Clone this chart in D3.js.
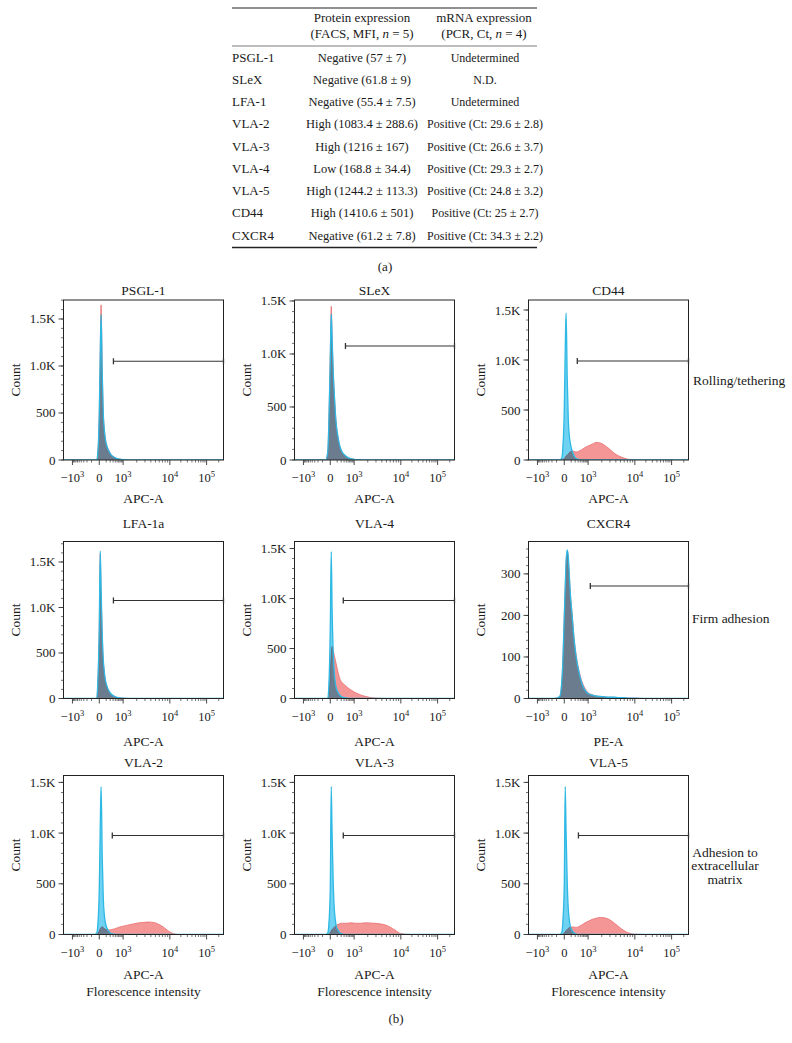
<!DOCTYPE html>
<html><head><meta charset="utf-8">
<script src="https://cdn.jsdelivr.net/npm/d3@7"></script>
<style>
body{margin:0;background:#fff}
text{font-family:"Liberation Serif","Times New Roman",serif;fill:#1a1a1a}
</style>
</head><body>
<svg id="c" width="792" height="1043"></svg>
<script>
// ---------------- DATA ----------------
const tableHeader1 = ["Protein expression", "mRNA expression"];
const rowLabels = ["PSGL-1","SLeX","LFA-1","VLA-2","VLA-3","VLA-4","VLA-5","CD44","CXCR4"];
const proteinExpr = ["Negative (57 ± 7)","Negative (61.8 ± 9)","Negative (55.4 ± 7.5)","High (1083.4 ± 288.6)","High (1216 ± 167)","Low (168.8 ± 34.4)","High (1244.2 ± 113.3)","High (1410.6 ± 501)","Negative (61.2 ± 7.8)"];
const mrnaExpr = ["Undetermined","N.D.","Undetermined","Positive (Ct: 29.6 ± 2.8)","Positive (Ct: 26.6 ± 3.7)","Positive (Ct: 29.3 ± 2.7)","Positive (Ct: 24.8 ± 3.2)","Positive (Ct: 25 ± 2.7)","Positive (Ct: 34.3 ± 2.2)"];

const panelNames = ["PSGL-1","SLeX","CD44","LFA-1a","VLA-4","CXCR4","VLA-2","VLA-3","VLA-5"];
const channelNames = ["APC-A","APC-A","APC-A","APC-A","APC-A","PE-A","APC-A","APC-A","APC-A"];
const groupLabels = [["Rolling/tethering"],["Firm adhesion"],["Adhesion to","extracellular","matrix"]];

const xTickValues = [-1000, 0, 1000, 10000, 100000];
const xTickBase = ["\u221210", "0", "10", "10", "10"];
const xTickExp = ["3", "", "3", "4", "5"];
const xMinorValues = [-900,-800,-700,-600,-500,-400,-300,-200,-100,100,200,300,400,500,600,700,800,900,2000,3000,4000,5000,6000,7000,8000,9000,20000,30000,40000,50000,60000,70000,80000,90000,200000];

const yMaxCounts = [1702, 1509, 1600, 1725, 1570, 378, 1568, 1568, 1568];
const yTicksK = [0, 500, 1000, 1500];
const yTicksSmall = [0, 100, 200, 300];

// fluorescence value of each histogram point
const xGrid = [-2000,-1000,-150,-50,-25,-15,0,10,20,35,50,65,80,120,170,230,350,500,700,1000,1250,1500,1850,2250,2850,3650,4650,5900,7500,10000,17500,32700,100000,262144];

const psglBlue = [0,0,0,0,0,60,500,1100,1550,900,480,330,240,140,90,55,30,15,8,4,2,0,0,0,0,0,0,0,0,0,0,0,0,0];
const psglRed  = [0,0,0,0,0,60,520,1150,1650,950,500,340,245,145,92,56,30,15,8,4,2,0,0,0,0,0,0,0,0,0,0,0,0,0];
const slexBlue = [0,0,0,0,80,300,950,1380,1150,820,620,460,350,210,120,75,42,22,12,6,3,1,0,0,0,0,0,0,0,0,0,0,0,0];
const slexRed  = [0,0,0,0,80,310,1000,1450,1180,830,625,465,352,212,121,76,42,22,12,6,3,1,0,0,0,0,0,0,0,0,0,0,0,0];
const cd44Blue = [0,0,0,0,20,100,500,1100,1470,800,400,250,180,90,40,15,5,0,0,0,0,0,0,0,0,0,0,0,0,0,0,0,0,0];
const cd44Red  = [0,0,0,0,0,3,15,25,40,50,60,70,80,90,85,80,90,105,125,140,160,175,170,150,115,70,40,20,6,1,0,0,0,0];
const lfaBlue  = [0,0,0,0,0,150,800,1620,1200,700,420,300,220,130,80,50,25,12,6,3,1,0,0,0,0,0,0,0,0,0,0,0,0,0];
const lfaRed   = [0,0,0,0,0,140,780,1590,1180,690,415,298,218,129,79,50,25,12,6,3,1,0,0,0,0,0,0,0,0,0,0,0,0,0];
const vla4Blue = [0,0,0,0,0,100,700,1470,900,450,250,160,110,60,30,15,7,3,0,0,0,0,0,0,0,0,0,0,0,0,0,0,0,0];
const vla4Red  = [0,0,0,0,0,20,250,450,520,480,430,390,350,260,190,160,130,105,85,65,45,30,20,10,5,2,0,0,0,0,0,0,0,0];
const cxcr4Blue = [0,0,0,5,40,80,200,270,330,358,340,300,260,200,140,100,60,35,20,12,8,6,5,4,3,3,2,2,1,1,0,0,0,0];
const cxcr4Red  = [0,0,0,5,40,80,200,268,328,355,338,300,262,205,145,105,65,40,25,14,9,6,5,4,3,3,2,2,1,1,0,0,0,0];
const vla2Blue = [0,0,0,0,15,80,450,1050,1460,750,350,200,130,60,25,10,3,0,0,0,0,0,0,0,0,0,0,0,0,0,0,0,0,0];
const vla2Red  = [0,0,0,0,0,10,35,55,70,75,70,60,52,45,45,48,55,65,75,82,92,100,108,115,120,123,118,100,70,25,0,0,0,0];
const vla3Blue = [0,0,0,0,15,80,450,1460,1000,500,250,150,90,40,15,5,0,0,0,0,0,0,0,0,0,0,0,0,0,0,0,0,0,0];
const vla3Red  = [0,0,0,0,0,5,20,35,50,62,72,80,88,100,108,112,110,112,115,112,110,112,115,113,110,105,95,75,45,10,0,0,0,0];
const vla5Blue = [0,0,0,0,20,100,500,1460,1000,500,250,150,90,40,15,5,0,0,0,0,0,0,0,0,0,0,0,0,0,0,0,0,0,0];
const vla5Red  = [0,0,0,0,0,3,15,25,40,50,60,68,72,75,72,70,80,95,115,130,150,160,168,165,150,115,75,40,15,3,0,0,0,0];

const blueSeries = [psglBlue, slexBlue, cd44Blue, lfaBlue, vla4Blue, cxcr4Blue, vla2Blue, vla3Blue, vla5Blue];
const redSeries  = [psglRed, slexRed, cd44Red, lfaRed, vla4Red, cxcr4Red, vla2Red, vla3Red, vla5Red];

const gateStart = [315, 360, 270, 315, 270, 1120, 270, 270, 315];
const gateLevel = [1050, 1075, 990, 1077, 980, 271, 976, 977, 977];

// ---------------- LAYOUT ----------------
const colLeft = [63.5, 294.5, 528.5];
const boxW = 160;
const rowTop = [300, 541.5, 775.5];
const rowH = [160, 157, 159];
const titleY = [294.5, 527.5, 766.5];
const channelY = [503, 746, 979];
const xKnots = [-2000, -1000, 0, 1000, 10000, 100000, 262144];
const xKnotFrac = [0, 9/161, 36/161, 60/161, 107/161, 144/161, 1];

const svg = d3.select("#c");

// ---------------- TABLE ----------------
const tX1 = 232, tX2 = 537, c2 = 362, c3 = 485, tfs = 12.5;
svg.append("line").attr("x1",tX1).attr("x2",tX2).attr("y1",8).attr("y2",8).attr("stroke","#222").attr("stroke-width",1);
svg.append("line").attr("x1",tX1).attr("x2",tX2).attr("y1",46).attr("y2",46).attr("stroke","#444").attr("stroke-width",0.7);
svg.append("line").attr("x1",tX1).attr("x2",tX2).attr("y1",247.5).attr("y2",247.5).attr("stroke","#222").attr("stroke-width",1.3);
const hdr = svg.append("g").attr("font-size",13).attr("text-anchor","middle");
hdr.append("text").attr("x",c2).attr("y",21.5).text(tableHeader1[0]);
hdr.append("text").attr("x",c3-1).attr("y",21.5).text(tableHeader1[1]);
const h2a = hdr.append("text").attr("x",c2).attr("y",38);
h2a.append("tspan").text("(FACS, MFI, ");
h2a.append("tspan").attr("font-style","italic").text("n");
h2a.append("tspan").text(" = 5)");
const h2b = hdr.append("text").attr("x",c3-1).attr("y",38);
h2b.append("tspan").text("(PCR, Ct, ");
h2b.append("tspan").attr("font-style","italic").text("n");
h2b.append("tspan").text(" = 4)");
const rowY = d3.scaleLinear().domain([0, rowLabels.length-1]).range([57, 235]);
rowLabels.forEach((r,i)=>{
  svg.append("text").attr("x",tX1).attr("y",rowY(i)+4.5).attr("font-size",13).text(r);
  svg.append("text").attr("x",c2).attr("y",rowY(i)+4.5).attr("font-size",tfs).attr("text-anchor","middle").text(proteinExpr[i]);
  svg.append("text").attr("x",c3).attr("y",rowY(i)+4.5).attr("font-size",12).attr("text-anchor","middle").text(mrnaExpr[i]);
});
svg.append("text").attr("x",385).attr("y",271).attr("font-size",13).attr("text-anchor","middle").text("(a)");
svg.append("text").attr("x",396).attr("y",1023).attr("font-size",13).attr("text-anchor","middle").text("(b)");

// ---------------- PANELS ----------------
const tf = d3.scaleSymlog().constant(100).domain([xKnots[0], xKnots[xKnots.length-1]]).range([0,1]);
const defs = svg.append("defs");

panelNames.forEach((name, i) => {
  const col = i % 3, row = Math.floor(i / 3);
  const L = colLeft[col], T = rowTop[row], H = rowH[row], B = T + H, R = L + boxW;
  const xs = d3.scaleLinear().domain(xKnots.map(tf)).range(xKnotFrac.map(f => L + f*boxW));
  const X = v => xs(tf(v));
  const ys = d3.scaleLinear().domain([0, yMaxCounts[i]]).range([B, T]);
  const g = svg.append("g");

  defs.append("clipPath").attr("id","clip"+i).append("rect").attr("x",L).attr("y",T).attr("width",boxW).attr("height",H);

  const area = d3.area().x(d=>X(d.v)).y0(ys(0)).y1(d=>ys(d.c)).curve(d3.curveMonotoneX);
  const line = d3.line().x(d=>X(d.v)).y(d=>ys(d.c)).curve(d3.curveMonotoneX);
  const red = xGrid.map((v,k)=>({v, c: redSeries[i][k]}));
  const blue = xGrid.map((v,k)=>({v, c: blueSeries[i][k]}));
  const hg = g.append("g").attr("clip-path","url(#clip"+i+")").style("isolation","isolate");
  hg.append("path").attr("d",area(red)).attr("fill","rgb(245,150,150)");
  hg.append("path").attr("d",line(red)).attr("fill","none").attr("stroke","rgb(232,110,110)").attr("stroke-width",0.8);
  hg.append("path").attr("d",area(blue)).attr("fill","rgb(80,200,240)").attr("fill-opacity",0.82).style("mix-blend-mode","multiply");
  hg.append("path").attr("d",line(blue)).attr("fill","none").attr("stroke","rgb(45,185,228)").attr("stroke-width",1.3);

  // box
  g.append("rect").attr("x",L).attr("y",T).attr("width",boxW).attr("height",H)
    .attr("fill","none").attr("stroke","#222").attr("stroke-width",1);

  // gate
  const gy = ys(gateLevel[i]), gx1 = X(gateStart[i]), gx2 = R;
  g.append("line").attr("x1",gx1).attr("x2",gx2).attr("y1",gy).attr("y2",gy).attr("stroke","#333").attr("stroke-width",1.1);
  [gx1, gx2].forEach(gx => g.append("line").attr("x1",gx).attr("x2",gx).attr("y1",gy-3).attr("y2",gy+3).attr("stroke","#333").attr("stroke-width",1.3));

  // x ticks
  xMinorValues.forEach(v => g.append("line").attr("x1",X(v)).attr("x2",X(v)).attr("y1",B).attr("y2",B+2.5).attr("stroke","#333").attr("stroke-width",0.7));
  xTickValues.forEach((v,k) => {
    g.append("line").attr("x1",X(v)).attr("x2",X(v)).attr("y1",B).attr("y2",B+5).attr("stroke","#333").attr("stroke-width",0.9);
    const t = g.append("text").attr("x",X(v)).attr("y",B+22).attr("font-size",12.5).attr("text-anchor","middle");
    t.append("tspan").text(xTickBase[k]);
    if (xTickExp[k]) t.append("tspan").attr("dy",-5).attr("font-size",8.5).text(xTickExp[k]);
  });

  // y ticks
  const small = yMaxCounts[i] < 1000;
  const majors = small ? yTicksSmall : yTicksK;
  const minorStep = small ? 20 : 100;
  d3.range(0, yMaxCounts[i], minorStep).forEach(v => g.append("line").attr("x1",L).attr("x2",L-2.5).attr("y1",ys(v)).attr("y2",ys(v)).attr("stroke","#333").attr("stroke-width",0.7));
  majors.forEach(v => {
    g.append("line").attr("x1",L).attr("x2",L-5).attr("y1",ys(v)).attr("y2",ys(v)).attr("stroke","#333").attr("stroke-width",0.9);
    const lab = v >= 1000 ? d3.format(".1f")(v/1000) + "K" : String(v);
    g.append("text").attr("x",L-8).attr("y",ys(v)+4.5).attr("font-size",13).attr("text-anchor","end").text(lab);
  });

  // labels
  g.append("text").attr("x",(L+R)/2).attr("y",titleY[row]).attr("font-size",13.5).attr("text-anchor","middle").text(name);
  g.append("text").attr("x",(L+R)/2).attr("y",channelY[row]).attr("font-size",13.5).attr("text-anchor","middle").text(channelNames[i]);
  if (row === 2) g.append("text").attr("x",(L+R)/2).attr("y",channelY[row]+17).attr("font-size",13.5).attr("text-anchor","middle").text("Florescence intensity");
  g.append("text").attr("transform",`translate(${L-44},${(T+B)/2}) rotate(-90)`).attr("font-size",13.5).attr("text-anchor","middle").text("Count");
});

// group labels at right
svg.append("text").attr("x",693).attr("y",384.5).attr("font-size",13.5).text(groupLabels[0][0]);
svg.append("text").attr("x",692).attr("y",622.5).attr("font-size",13.5).text(groupLabels[1][0]);
groupLabels[2].forEach((s,k) => svg.append("text").attr("x",725).attr("y",856.5 + k*13.5).attr("font-size",13.5).attr("text-anchor","middle").text(s));
</script>
</body></html>
